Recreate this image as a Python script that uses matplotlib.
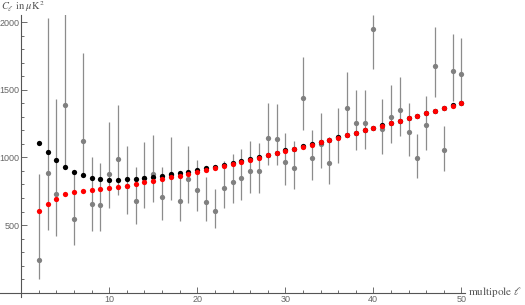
import matplotlib
matplotlib.use("Agg")
import matplotlib.pyplot as plt
import numpy as np

ell = list(range(2, 51))

# theory curve 1 (black)
cl_black = [1105, 1043, 981, 932, 893, 868, 850, 841, 836, 836,
            838, 843, 850, 858, 865, 875, 885, 895, 910, 920,
            933, 945, 960, 973, 986, 1001, 1018, 1035, 1054, 1066,
            1082, 1097, 1113, 1131, 1149, 1166, 1183, 1202, 1220, 1238,
            1255, 1272, 1291, 1308, 1328, 1345, 1365, 1385, 1402]

# theory curve 2 (red)
cl_red = [604, 656, 695, 727, 742, 750, 757, 767, 776, 784,
          791, 804, 816, 828, 843, 856, 866, 878, 896, 908,
          925, 938, 953, 969, 983, 998, 1015, 1032, 1050, 1063,
          1080, 1095, 1111, 1130, 1147, 1164, 1181, 1201, 1218, 1236,
          1253, 1270, 1290, 1307, 1327, 1344, 1364, 1384, 1401]

# measured values with lower / upper bounds (gray)
cl_data = [243, 885, 730, 1389, 544, 1125, 656, 650, 875, 989,
           787, 680, 845, 875, 705, 870, 680, 841, 762, 671,
           601, 776, 822, 849, 902, 898, 1144, 1140, 963, 925,
           1441, 997, 1100, 959, 1150, 1369, 1258, 1258, 1952, 1209,
           1298, 1354, 1191, 996, 1238, 1680, 1053, 1643, 1619]
cl_lo = [102, 463, 419, 935, 350, 868, 456, 456, 628, 722,
         579, 510, 628, 673, 539, 687, 531, 662, 605, 532,
         479, 625, 663, 686, 735, 735, 942, 942, 795, 768,
         1204, 831, 920, 804, 959, 1165, 1058, 1062, 1656, 1026,
         1105, 1159, 1014, 850, 1059, 1446, 902, 1421, 1400]
cl_hi = [875, 2031, 1431, 2200, 883, 1772, 1001, 962, 1260, 1392,
         1088, 927, 1113, 1169, 932, 1152, 875, 1088, 981, 857,
         764, 977, 1028, 1061, 1122, 1110, 1404, 1397, 1180, 1125,
         1742, 1205, 1327, 1154, 1369, 1633, 1500, 1500, 2053, 1433,
         1537, 1594, 1401, 1174, 1453, 1967, 1233, 1917, 1883]

W, H = 525, 305
fig = plt.figure(figsize=(W / 100, H / 100), dpi=100)
# axes box in pixels: x 0..465, y 15..297
ax = fig.add_axes([0 / W, (H - 297) / H, 465 / W, (297 - 15) / H])
ax.set_xlim(-2.42, 50.42)
ax.set_ylim(-33, 2055)

err = [np.array(cl_data) - np.array(cl_lo), np.array(cl_hi) - np.array(cl_data)]
ax.errorbar(ell, cl_data, yerr=err, fmt="o", color="#808080", ecolor="#8c8c8c",
            ms=3.8, mew=0, elinewidth=0.9, capsize=1.3, capthick=0.8, zorder=2)
ax.plot(ell, cl_black, "o", color="black", ms=3.8, mew=0, zorder=3)
ax.plot(ell, cl_red, "o", color="#ff0000", ms=3.8, mew=0, zorder=4)

for s in ["top", "right"]:
    ax.spines[s].set_visible(False)
ax.spines["left"].set_position(("data", 0))
ax.spines["bottom"].set_position(("data", 0))
for s in ["left", "bottom"]:
    ax.spines[s].set_color("#555555")
    ax.spines[s].set_linewidth(0.8)

ax.set_xticks([10, 20, 30, 40, 50])
ax.set_xticks(np.arange(2, 51, 2), minor=True)
ax.set_yticks([500, 1000, 1500, 2000])
ax.set_yticks(np.arange(100, 2051, 100), minor=True)
ax.tick_params(which="both", direction="in", color="#555555", width=0.6,
               labelsize=6.5, labelcolor="#666666", pad=1.5)
ax.tick_params(which="major", length=4)
ax.tick_params(which="minor", length=2)
for lab in ax.get_xticklabels() + ax.get_yticklabels():
    lab.set_family("Liberation Sans")

plt.rcParams["mathtext.fontset"] = "stix"
fig.text(1 / W, 1 - 9.5 / H, r"$C_\ell$ in $\mu$K$^2$", fontsize=7.5,
         family="STIXGeneral", color="#555555", va="baseline", ha="left")
fig.text(468 / W, 1 - 292 / H, r"multipole $\ell$", fontsize=8,
         family="STIXGeneral", color="#555555", va="center", ha="left")

fig.savefig("out.png", dpi=100)
